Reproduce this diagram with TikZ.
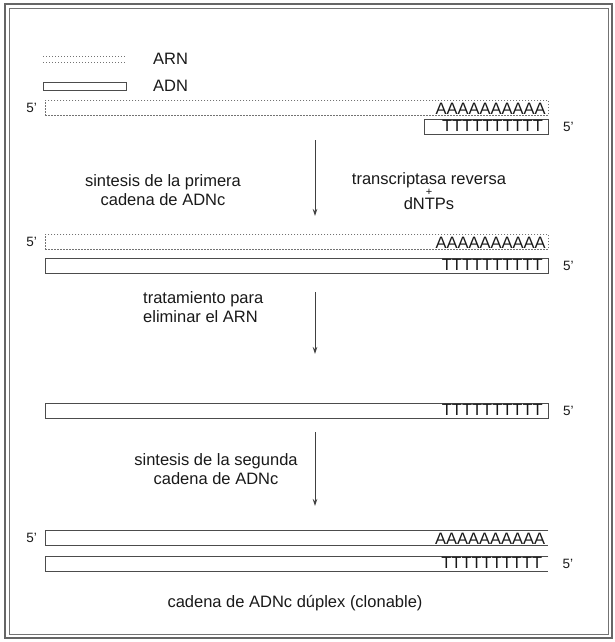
\documentclass[tikz,border=0pt]{standalone}
\usepackage{fontspec}
\setmainfont{Liberation Sans}
\usetikzlibrary{positioning,arrows.meta}

\begin{document}
\begin{tikzpicture}[
			x=1pt, y=-1pt,
			every node/.style={
					font=\fontsize{16.5}{19}\selectfont,
					text=black!90,
					inner sep=0pt
				},
			strand/.style={
					rectangle,
					minimum width=503pt,
					minimum height=15pt,
					anchor=north west
				},
			rna/.style={draw=black!55, line width=0.9pt,
					dash pattern=on 1.2pt off 1.8pt},
			dna/.style={draw=black!70, line width=0.9pt},
			end/.style={font=\fontsize{13.5}{13.5}\selectfont},
			paso/.style={-{Stealth[length=7pt,width=4.5pt]}, line width=0.9pt, black!75}
		]

		% frame
		\useasboundingbox (0,0) rectangle (615,642);
		\draw[black!60, line width=1.6pt] (5,4) rectangle (612,638);
		\draw[black!55, line width=0.7pt] (9.5,8.5) rectangle (608,634);

		% legend
		\draw[rna] (43,56) -- (125,56);
		\draw[rna] (43,62) -- (125,62);
		\node (arn) [anchor=west] at (153,59) {ARN};
		\node (adnbox) [dna, rectangle, minimum width=83pt, minimum height=8pt,
			anchor=north west] at (43,82) {};
		\node (adn) [anchor=west] at (153,86) {ADN};

		% ARNm with oligo(dT) primer
		\node (arn1) [strand, rna] at (45,100) {};
		\node (end1) [end, left=8pt of arn1.west] {5'};
		\node (polya1) [anchor=south east] at ([xshift=-3pt,yshift=1pt]arn1.south east) {AAAAAAAAAA};
		\node (dt1) [dna, rectangle, minimum width=124pt, minimum height=15pt,
			anchor=north east] at (549,119) {};
		\node (tt1) [anchor=north east] at ([xshift=-6pt,yshift=-1pt]dt1.north east) {TTTTTTTTTT};
		\node (end2) [end, right=14pt of dt1.east] {5'};

		\coordinate (p1a) at (315,140);
		\coordinate (p1b) at (315,216);
		\draw[paso] (p1a) -- (p1b);
		\node (txt1) [align=center] at (163,190) {sintesis de la primera\\cadena de ADNc};
		\node (txt2) [align=center] at (429,191)
		{transcriptasa reversa\\[-8pt]{\fontsize{11}{11}\selectfont+}\\[-5pt]dNTPs};

		% hibrido ARN-ADNc
		\node (arn2) [strand, rna] at (45,234) {};
		\node (end3) [end, left=8pt of arn2.west] {5'};
		\node (polya2) [anchor=south east] at ([xshift=-3pt,yshift=1pt]arn2.south east) {AAAAAAAAAA};
		\node (adn2) [strand, dna] at (45,258) {};
		\node (tt2) [anchor=north east] at ([xshift=-6pt,yshift=-1pt]adn2.north east) {TTTTTTTTTT};
		\node (end4) [end, right=14pt of adn2.east] {5'};

		\coordinate (p2a) at (315,292);
		\coordinate (p2b) at (315,354);
		\draw[paso] (p2a) -- (p2b);
		\node (txt3) [align=left, anchor=west] at (143,307) {tratamiento para\\eliminar el ARN};

		% ADNc de cadena sencilla
		\node (adn3) [strand, dna] at (45,403) {};
		\node (tt3) [anchor=north east] at ([xshift=-6pt,yshift=-1pt]adn3.north east) {TTTTTTTTTT};
		\node (end5) [end, right=14pt of adn3.east] {5'};

		\coordinate (p3a) at (315,432);
		\coordinate (p3b) at (315,506);
		\draw[paso] (p3a) -- (p3b);
		\node (txt4) [align=center] at (216,469) {sintesis de la segunda\\cadena de ADNc};

		% ADNc duplex
		\node (adn4) [strand] at (45,530) {};
		\draw[dna] (adn4.north east) -- (adn4.north west) -- (adn4.south west) -- (adn4.south east);
		\node (end6) [end, left=8pt of adn4.west] {5'};
		\node (polya4) [anchor=south east] at ([xshift=-3pt,yshift=1pt]adn4.south east) {AAAAAAAAAA};
		\node (adn5) [strand] at (45,556) {};
		\draw[dna] (adn5.north east) -- (adn5.north west) -- (adn5.south west) -- (adn5.south east);
		\node (tt5) [anchor=north east] at ([xshift=-6pt,yshift=-1pt]adn5.north east) {TTTTTTTTTT};
		\node (end7) [end, right=14pt of adn5.east] {5'};

		\node (txt5) at (295,603) {cadena de ADNc dúplex (clonable)};

	\end{tikzpicture}
\end{document}
